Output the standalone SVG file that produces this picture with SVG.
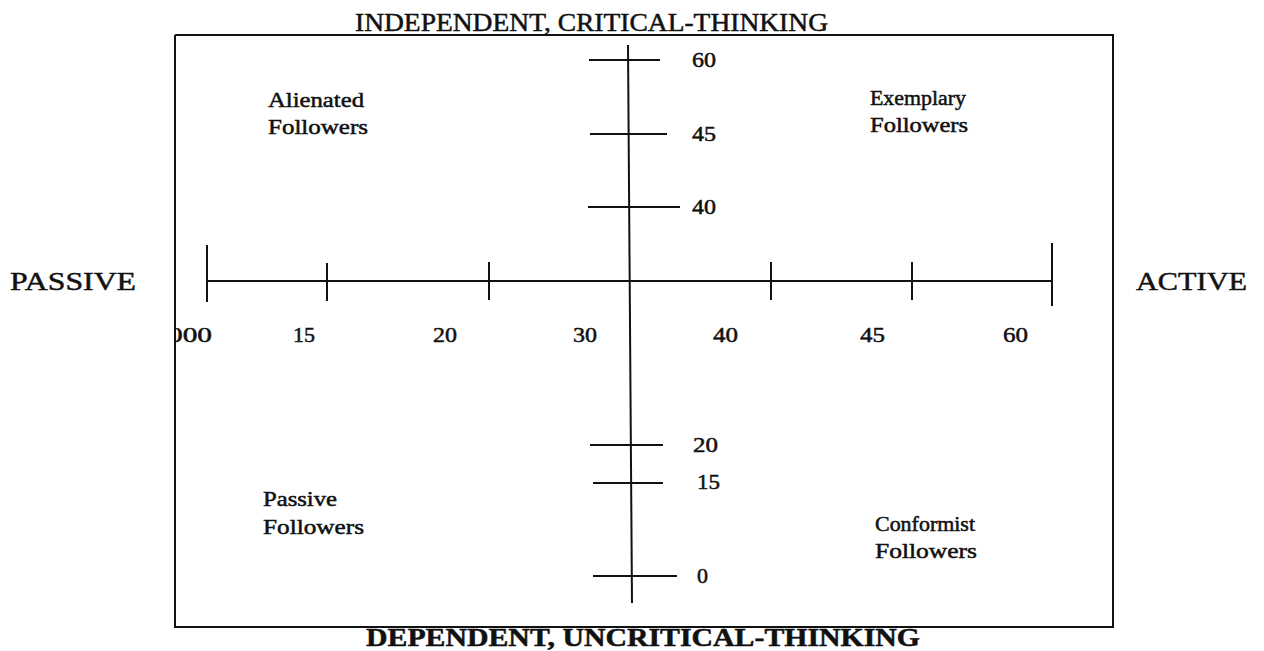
<svg xmlns="http://www.w3.org/2000/svg" width="1264" height="651" viewBox="0 0 1264 651">
  <style>
    text { font-family: "Liberation Serif", "Times New Roman", serif; fill: #111; stroke: #111; stroke-width: 0.5; }
    .ln { stroke: #111; stroke-width: 2; fill: none; stroke-linecap: butt; }
    .title { font-size: 26px; }
    .side { font-size: 26px; }
    .quad { font-size: 21px; }
    .num { font-size: 21px; }
  </style>
  <defs>
    <clipPath id="inside">
      <rect x="175" y="30" width="940" height="600"/>
    </clipPath>
  </defs>
  <rect width="1264" height="651" fill="#fff"/>

  <!-- frame and side captions -->
  <g id="frame">
    <polyline class="ln" points="175,35 1113,35 1113,627 175,627 175,35"/>
  </g>
  <g id="title-top"><text class="title" x="355" y="31" textLength="473" lengthAdjust="spacingAndGlyphs">INDEPENDENT, CRITICAL-THINKING</text></g>
  <g id="title-bottom"><text class="title" x="366" y="646" font-weight="bold" textLength="554" lengthAdjust="spacingAndGlyphs">DEPENDENT, UNCRITICAL-THINKING</text></g>
  <g id="label-passive"><text class="side" x="10" y="290" textLength="126" lengthAdjust="spacingAndGlyphs">PASSIVE</text></g>
  <g id="label-active"><text class="side" x="1136" y="290" textLength="111" lengthAdjust="spacingAndGlyphs">ACTIVE</text></g>

  <!-- quadrants -->
  <g id="q-alienated">
    <text class="quad" x="268" y="107" textLength="96" lengthAdjust="spacingAndGlyphs">Alienated</text>
    <text class="quad" x="268" y="134" textLength="100" lengthAdjust="spacingAndGlyphs">Followers</text>
  </g>
  <g id="q-exemplary">
    <text class="quad" x="870" y="105" textLength="96" lengthAdjust="spacingAndGlyphs">Exemplary</text>
    <text class="quad" x="870" y="132" textLength="98" lengthAdjust="spacingAndGlyphs">Followers</text>
  </g>
  <g id="q-passive">
    <text class="quad" x="263" y="506" textLength="74" lengthAdjust="spacingAndGlyphs">Passive</text>
    <text class="quad" x="263" y="534" textLength="101" lengthAdjust="spacingAndGlyphs">Followers</text>
  </g>
  <g id="q-conformist">
    <text class="quad" x="875" y="531" textLength="100" lengthAdjust="spacingAndGlyphs">Conformist</text>
    <text class="quad" x="875" y="558" textLength="102" lengthAdjust="spacingAndGlyphs">Followers</text>
  </g>

  <!-- axes -->
  <g id="connectors">
    <!-- vertical axis with ticks -->
    <line class="ln" x1="628" y1="45" x2="632" y2="603"/>
    <line class="ln" x1="589" y1="60" x2="660" y2="60"/>
    <line class="ln" x1="590" y1="134" x2="667" y2="134"/>
    <line class="ln" x1="588" y1="207" x2="680" y2="207" stroke-width="3"/>
    <line class="ln" x1="590" y1="445" x2="663" y2="445"/>
    <line class="ln" x1="593" y1="483" x2="663" y2="483"/>
    <line class="ln" x1="593" y1="576" x2="677" y2="576"/>
    <!-- horizontal axis with ticks -->
    <line class="ln" x1="207" y1="281" x2="1052" y2="281"/>
    <line class="ln" x1="207" y1="245" x2="207" y2="302"/>
    <line class="ln" x1="327" y1="263" x2="327" y2="301"/>
    <line class="ln" x1="489" y1="262" x2="489" y2="300"/>
    <line class="ln" x1="771" y1="262" x2="771" y2="300"/>
    <line class="ln" x1="912" y1="262" x2="912" y2="300"/>
    <line class="ln" x1="1052" y1="243" x2="1052" y2="306"/>
  </g>

  <!-- scale values -->
  <g id="scale-vertical">
    <text class="num" x="692" y="67" textLength="24" lengthAdjust="spacingAndGlyphs">60</text>
    <text class="num" x="692" y="141" textLength="24" lengthAdjust="spacingAndGlyphs">45</text>
    <text class="num" x="692" y="214" textLength="24" lengthAdjust="spacingAndGlyphs">40</text>
    <text class="num" x="693" y="452" textLength="25" lengthAdjust="spacingAndGlyphs">20</text>
    <text class="num" x="697" y="489" textLength="23" lengthAdjust="spacingAndGlyphs">15</text>
    <text class="num" x="697" y="583" textLength="11" lengthAdjust="spacingAndGlyphs">0</text>
  </g>
  <g id="scale-horizontal">
    <text class="num" x="168" y="342" textLength="44" lengthAdjust="spacingAndGlyphs" clip-path="url(#inside)">000</text>
    <text class="num" x="293" y="342" textLength="22" lengthAdjust="spacingAndGlyphs">15</text>
    <text class="num" x="433" y="342" textLength="24" lengthAdjust="spacingAndGlyphs">20</text>
    <text class="num" x="573" y="342" textLength="24" lengthAdjust="spacingAndGlyphs">30</text>
    <text class="num" x="713" y="342" textLength="25" lengthAdjust="spacingAndGlyphs">40</text>
    <text class="num" x="860" y="342" textLength="25" lengthAdjust="spacingAndGlyphs">45</text>
    <text class="num" x="1003" y="342" textLength="25" lengthAdjust="spacingAndGlyphs">60</text>
  </g>
</svg>
